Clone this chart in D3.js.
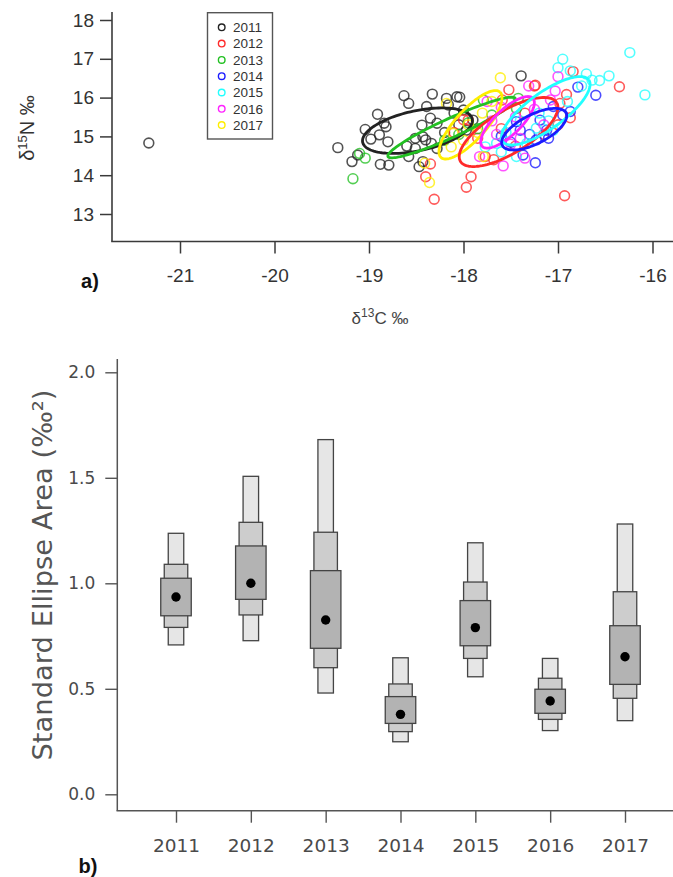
<!DOCTYPE html>
<html><head><meta charset="utf-8">
<script src="https://cdn.jsdelivr.net/npm/d3@7"></script>
<style>body{margin:0;background:#fff}svg{display:block}</style>
</head><body>
<script>
// ---------- Panel a) data : [d13C, d15N] ----------
const years = ["2011","2012","2013","2014","2015","2016","2017"];
const yearColors = ["#222222","#ff2a2a","#22c022","#1a1aff","#22ffff","#ff22ff","#ffee00"];

const pts2011 = [[-21.33,14.83],[-19.33,14.71],[-19.18,14.35],[-19.12,14.52],[-19.04,15.18],[-18.98,14.93],[-18.91,15.57],[-18.89,15.04],[-18.84,15.34],[-18.82,15.25],[-18.80,14.86],[-18.88,14.28],[-18.79,14.26],[-18.63,16.05],[-18.58,15.85],[-18.60,14.75],[-18.58,14.48],[-18.51,14.95],[-18.47,14.22],[-18.44,15.29],[-18.39,15.77],[-18.33,16.09],[-18.35,15.47],[-18.43,14.99],[-18.40,14.91],[-18.34,14.82],[-18.28,15.34],[-18.18,15.98],[-18.16,15.81],[-18.07,16.02],[-18.04,16.01],[-18.10,15.60],[-18.28,14.69],[-18.00,15.68],[-17.97,15.16],[-18.43,14.35],[-17.39,16.56],[-17.90,15.42],[-18.51,14.69],[-18.05,15.30],[-18.20,15.10]];
const pts2012 = [[-18.35,14.29],[-18.40,13.96],[-18.31,13.38],[-17.92,13.96],[-17.97,13.69],[-17.95,15.42],[-16.93,13.47],[-16.35,16.28],[-16.84,16.67],[-16.91,16.08],[-17.24,16.32],[-17.52,16.20],[-16.87,15.48],[-16.98,15.85],[-17.77,14.48],[-17.68,14.40],[-17.59,15.94],[-17.25,16.30],[-18.00,15.43],[-17.85,14.95],[-17.45,14.75],[-17.15,15.05],[-17.35,15.60],[-17.60,15.20],[-17.00,15.30],[-18.10,15.10]];
const pts2013 = [[-19.17,13.91],[-19.10,14.56],[-19.04,14.44],[-18.05,15.05],[-17.95,15.35],[-17.79,15.94],[-17.42,15.98],[-17.44,15.72],[-17.70,15.55],[-17.85,15.20],[-18.20,14.90]];
const pts2014 = [[-17.24,14.32],[-16.60,16.06],[-16.79,16.27],[-16.87,15.64],[-17.19,15.42],[-17.40,15.16],[-17.44,15.38],[-17.12,15.16],[-17.37,14.52],[-17.05,15.77],[-17.23,14.91],[-17.50,14.85],[-17.30,15.05],[-16.95,15.55],[-17.60,15.00],[-17.10,14.95]];
const pts2015 = [[-16.24,17.16],[-16.08,16.07],[-16.95,16.99],[-17.00,16.77],[-16.70,16.61],[-16.56,16.44],[-16.46,16.56],[-16.64,16.45],[-16.87,16.69],[-17.23,15.21],[-17.65,14.82],[-17.77,14.73],[-17.05,15.16],[-17.33,14.82],[-17.44,14.48],[-17.55,15.10],[-17.20,15.60],[-16.90,15.90],[-17.40,15.40],[-17.60,14.60],[-17.10,15.40],[-16.75,16.30]];
const pts2016 = [[-17.00,16.54],[-17.03,16.17],[-17.58,14.24],[-17.35,14.44],[-17.83,14.48],[-17.08,15.94],[-17.31,16.30],[-17.65,15.05],[-17.45,15.50],[-17.25,15.70],[-17.70,15.40],[-17.50,14.80],[-17.60,15.75],[-17.15,15.30],[-17.40,14.95],[-17.75,15.90]];
const pts2017 = [[-17.61,16.51],[-18.36,13.81],[-18.41,14.31],[-18.13,14.73],[-18.11,15.08],[-18.18,15.85],[-17.79,14.48],[-17.80,15.60],[-17.95,15.30],[-18.00,14.90],[-17.70,15.90],[-17.85,15.10]];
const pointSets = [pts2011, pts2012, pts2013, pts2014, pts2015, pts2016, pts2017];

// Standard ellipses in data units: centre and two conjugate semi-axis vectors
const ellCenter = [[-18.487,15.147],[-17.523,15.113],[-18.125,15.229],[-17.252,15.186],[-17.129,15.660],[-17.534,15.363],[-17.926,15.299]];
const ellAxisU  = [[0.580,0.300],[0.509,0.760],[0.674,0.748],[0.337,0.420],[0.455,0.796],[0.268,0.620],[0.312,0.843]];
const ellAxisV  = [[0.044,-0.504],[0.117,-0.464],[0.042,-0.223],[0.070,-0.333],[0.112,-0.379],[0.094,-0.241],[0.118,-0.259]];
const ellDrawOrder = [0,2,6,1,5,4,3];

const xTicksA = [-21,-20,-19,-18,-17,-16];
const yTicksA = [13,14,15,16,17,18];

// ---------- Panel b) data : SEA posterior ----------
const seaMode = [0.935,1.000,0.826,0.379,0.790,0.442,0.652];
const ci50lo = [0.846,0.924,0.692,0.336,0.704,0.384,0.521];
const ci50hi = [1.024,1.177,1.060,0.463,0.918,0.498,0.799];
const ci75lo = [0.791,0.850,0.600,0.297,0.644,0.355,0.455];
const ci75hi = [1.090,1.289,1.242,0.523,1.006,0.550,0.960];
const ci95lo = [0.708,0.728,0.480,0.249,0.557,0.302,0.349];
const ci95hi = [1.237,1.507,1.681,0.647,1.192,0.644,1.281];
const yTicksB = [0,0.5,1,1.5,2];
const yTickLabelsB = ["0.0","0.5","1.0","1.5","2.0"];

// ---------- drawing ----------
const W = 673, H = 877;
const svg = d3.select("body").append("svg").attr("width",W).attr("height",H);
svg.append("rect").attr("width",W).attr("height",H).attr("fill","#fff");

const axisCol = "#3a3a3a";
const fontA = "'Liberation Sans', Arial, sans-serif";
const fontB = "'DejaVu Sans', sans-serif";

// Panel a scales
const xA = d3.scaleLinear().domain([-21,-16]).range([180,652.5]);
const yA = d3.scaleLinear().domain([13,18]).range([214,20]);
const gA = svg.append("g");

gA.append("line").attr("x1",112).attr("x2",112).attr("y1",12).attr("y2",241.5).attr("stroke",axisCol).attr("stroke-width",1.6);
gA.append("line").attr("x1",111.2).attr("x2",673).attr("y1",241.5).attr("y2",241.5).attr("stroke",axisCol).attr("stroke-width",1.6);

const axLeftA = gA.append("g").attr("transform","translate(112,0)")
  .call(d3.axisLeft(yA).tickValues(yTicksA).tickSize(12).tickPadding(6).tickFormat(d3.format("d")));
const axBotA = gA.append("g").attr("transform","translate(0,241.5)")
  .call(d3.axisBottom(xA).tickValues(xTicksA).tickSize(12).tickPadding(15).tickFormat(d => d3.format("d")(d).replace("−","-")));
[axLeftA, axBotA].forEach(a => {
  a.select(".domain").remove();
  a.selectAll("line").attr("stroke",axisCol).attr("stroke-width",1.5);
  a.selectAll("text").attr("font-family",fontA).attr("font-size",19).attr("fill","#333");
});

pointSets.forEach((pts, i) => {
  gA.append("g").selectAll("circle").data(pts).join("circle")
    .attr("cx", d => xA(d[0])).attr("cy", d => yA(d[1])).attr("r",4.9)
    .attr("fill","none").attr("stroke",yearColors[i]).attr("stroke-width",1.6).attr("stroke-opacity",0.78);
});

const ts = d3.range(0, 2*Math.PI + 0.001, Math.PI/60);
const lineGen = d3.line().x(d => xA(d[0])).y(d => yA(d[1]));
ellDrawOrder.forEach(i => {
  const c = ellCenter[i], u = ellAxisU[i], v = ellAxisV[i];
  const path = ts.map(t => [c[0] + u[0]*Math.cos(t) + v[0]*Math.sin(t), c[1] + u[1]*Math.cos(t) + v[1]*Math.sin(t)]);
  gA.append("path").attr("d", lineGen(path)).attr("fill","none")
    .attr("stroke", yearColors[i]).attr("stroke-width",2.8);
});

const leg = gA.append("g");
leg.append("rect").attr("x",207.5).attr("y",12.7).attr("width",65).attr("height",126.3)
  .attr("fill","#fff").attr("stroke","#555").attr("stroke-width",1.4);
years.forEach((yr,i) => {
  const yy = 27.3 + i*16.3;
  leg.append("circle").attr("cx",221.7).attr("cy",yy).attr("r",3.3).attr("fill","none")
    .attr("stroke",yearColors[i]).attr("stroke-width",1.4);
  leg.append("text").attr("x",233).attr("y",yy).attr("dy","0.35em").text(yr)
    .attr("font-family",fontA).attr("font-size",13.5).attr("fill","#333");
});

const yTitleA = gA.append("text").attr("transform","translate(34,128) rotate(-90)")
  .attr("text-anchor","middle").attr("font-family",fontA).attr("font-size",20).attr("fill","#333");
yTitleA.append("tspan").text("δ");
yTitleA.append("tspan").attr("font-size",13).attr("dy",-7).text("15");
yTitleA.append("tspan").attr("dy",7).text("N ‰");

const xTitleA = gA.append("text").attr("x",380).attr("y",324)
  .attr("text-anchor","middle").attr("font-family",fontA).attr("font-size",17).attr("fill","#444");
xTitleA.append("tspan").text("δ");
xTitleA.append("tspan").attr("font-size",12).attr("dy",-7).text("13");
xTitleA.append("tspan").attr("dy",7).text("C ‰");

gA.append("text").attr("x",90).attr("y",288).attr("text-anchor","middle")
  .attr("font-family",fontA).attr("font-size",20).attr("font-weight","bold").attr("fill","#111").text("a)");

// Panel b
const xB = d3.scalePoint().domain(years).range([176,625]);
const yB = d3.scaleLinear().domain([0,2]).range([794.3,372.3]);
const gB = svg.append("g");

gB.append("line").attr("x1",117.3).attr("x2",117.3).attr("y1",359).attr("y2",810.7).attr("stroke","#555").attr("stroke-width",1.5);
gB.append("line").attr("x1",116.5).attr("x2",673).attr("y1",810.7).attr("y2",810.7).attr("stroke","#555").attr("stroke-width",1.5);

const axLeftB = gB.append("g").attr("transform","translate(117.3,0)")
  .call(d3.axisLeft(yB).tickValues(yTicksB).tickSize(12).tickPadding(10).tickFormat((d,i) => yTickLabelsB[i]));
const axBotB = gB.append("g").attr("transform","translate(0,810.7)")
  .call(d3.axisBottom(xB).tickSize(12).tickPadding(16));
[axLeftB, axBotB].forEach(a => {
  a.select(".domain").remove();
  a.selectAll("line").attr("stroke","#555").attr("stroke-width",1.4);
  a.selectAll("text").attr("font-family",fontB).attr("fill","#4a4a4a");
});
axLeftB.selectAll("text").attr("font-size",17);
axBotB.selectAll("text").attr("font-size",18.5);

const layers = [
  {lo: ci95lo, hi: ci95hi, w: 15.5, fill: "#e6e6e6"},
  {lo: ci75lo, hi: ci75hi, w: 23.5, fill: "#cdcdcd"},
  {lo: ci50lo, hi: ci50hi, w: 30.5, fill: "#b3b3b3"}
];
layers.forEach(L => {
  gB.append("g").selectAll("rect").data(years).join("rect")
    .attr("x", (d) => xB(d) - L.w/2).attr("width", L.w)
    .attr("y", (d,i) => yB(L.hi[i])).attr("height", (d,i) => yB(L.lo[i]) - yB(L.hi[i]))
    .attr("fill", L.fill).attr("stroke","#444").attr("stroke-width",1.3);
});
gB.append("g").selectAll("circle").data(years).join("circle")
  .attr("cx", d => xB(d)).attr("cy", (d,i) => yB(seaMode[i])).attr("r",4.7).attr("fill","#000");

gB.append("text").attr("transform","translate(52,575) rotate(-90)")
  .attr("text-anchor","middle").attr("font-family",fontB).attr("font-size",27).attr("fill","#555")
  .attr("textLength",371).attr("lengthAdjust","spacingAndGlyphs")
  .text("Standard Ellipse Area (‰²)");

gB.append("text").attr("x",88).attr("y",873).attr("text-anchor","middle")
  .attr("font-family",fontA).attr("font-size",20).attr("font-weight","bold").attr("fill","#111").text("b)");
</script>
</body></html>
